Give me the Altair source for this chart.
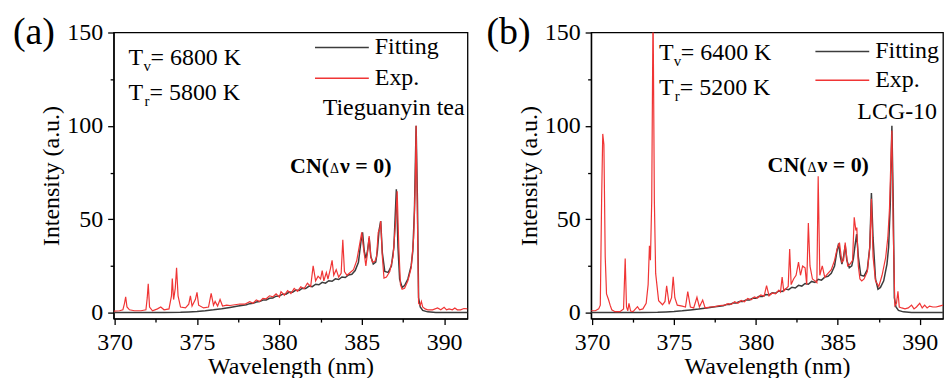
import altair as alt
import pandas as pd

FONT = "Liberation Serif"
AXIS_FONT = "Times New Roman, Liberation Serif, serif"
RED = "#f03535"
GRAY = "#3c3c3c"

# ---------------- Panel (a): Tieguanyin tea ----------------
a_fit_wl = [369.94, 371.0, 372.0, 373.0, 374.0, 374.5, 375.0, 375.5, 376.0, 376.5,
            377.0, 377.5, 378.0, 378.2, 378.4, 378.6, 378.8, 379.0, 379.2, 379.4,
            379.6, 379.8, 380.0, 380.2, 380.4, 380.6, 380.8, 381.0, 381.2, 381.4,
            381.6, 381.8, 382.0, 382.2, 382.4, 382.6, 382.8, 383.0, 383.2, 383.4,
            383.6, 383.8, 384.0, 384.2, 384.4, 384.6, 384.8, 384.95, 385.05, 385.15,
            385.25, 385.35, 385.45, 385.55, 385.7, 385.85, 385.95, 386.05, 386.15, 386.25,
            386.4, 386.6, 386.8, 386.95, 387.1, 387.2, 387.3, 387.45, 387.6, 387.8,
            388.0, 388.1, 388.2, 388.3, 388.38, 388.45, 388.55, 388.7, 389.0, 389.5,
            391.42]
a_fit_int = [0.0, 0.0, 0.0, 0.05, 0.15, 0.35, 0.6, 1.0, 1.5, 2.1,
             2.8, 3.5, 4.2, 4.8, 5.0, 5.7, 5.9, 6.7, 6.8, 7.7,
             7.8, 8.8, 8.9, 9.9, 9.9, 11.0, 10.9, 12.1, 11.9, 13.1,
             12.9, 14.2, 13.9, 15.2, 14.9, 16.2, 15.8, 17.1, 16.8, 18.1,
             17.7, 19.1, 18.8, 20.2, 20.5, 22.5, 27.0, 38.0, 43.0, 33.0,
             29.0, 33.0, 40.0, 30.0, 26.0, 27.0, 33.0, 44.0, 49.0, 32.0,
             22.0, 21.5, 25.0, 35.0, 66.0, 35.0, 18.0, 13.5, 14.5, 18.0,
             25.0, 33.0, 55.0, 100.0, 60.0, 8.0, 3.0, 1.2, 0.4, 0.1,
             0.0]
a_exp_wl = [369.94, 370.3, 370.5, 370.6, 370.67, 370.75, 370.9, 371.2, 371.6, 371.9,
            371.98, 372.04, 372.12, 372.3, 372.6, 372.8, 373.0, 373.3, 373.45, 373.5,
            373.58, 373.68, 373.76, 373.85, 374.0, 374.3, 374.5, 374.6, 374.7, 374.9,
            375.0, 375.1, 375.4, 375.7, 375.86, 376.0, 376.1, 376.25, 376.4, 376.55,
            376.8, 377.0, 377.3, 377.6, 377.9, 378.2, 378.4, 378.6, 378.8, 379.0,
            379.2, 379.4, 379.6, 379.8, 380.0, 380.1, 380.3, 380.5, 380.7, 380.9,
            381.1, 381.3, 381.5, 381.7, 381.9, 382.05, 382.2, 382.35, 382.5, 382.6,
            382.7, 382.85, 382.95, 383.1, 383.2, 383.3, 383.45, 383.6, 383.75, 383.85,
            383.95, 384.1, 384.3, 384.5, 384.7, 384.9, 385.0, 385.1, 385.25, 385.35,
            385.45, 385.55, 385.65, 385.8, 385.9, 386.0, 386.1, 386.15, 386.25, 386.35,
            386.5, 386.7, 386.9, 387.05, 387.15, 387.25, 387.35, 387.45, 387.6, 387.8,
            388.0, 388.15, 388.25, 388.3, 388.38, 388.45, 388.55, 388.62, 388.7, 388.85,
            389.0, 389.3, 389.6, 389.8, 390.0, 390.15, 390.3, 390.5, 390.65, 390.8,
            391.0, 391.2, 391.42]
a_exp_int = [0.8, 1.0, 1.5, 5.0, 8.5, 3.0, 1.5, 1.0, 1.0, 1.5,
             8.0, 15.5, 3.0, 1.0, 2.0, 3.0, 1.5, 2.0, 9.0, 18.3,
             7.0, 13.0, 24.0, 9.0, 3.0, 2.5, 4.5, 9.0, 3.5, 7.0,
             10.8, 4.0, 2.5, 3.0, 10.3, 4.0, 6.0, 3.5, 7.0, 3.5,
             4.0, 3.8, 4.2, 4.6, 4.5, 5.8, 5.0, 6.8, 5.9, 7.6,
             7.4, 9.0, 8.4, 10.0, 8.3, 11.2, 9.3, 11.8, 10.2, 13.0,
             11.4, 13.8, 12.8, 15.8, 14.0, 25.0, 17.0, 19.5, 18.0, 22.5,
             17.0, 21.5, 18.0, 23.5, 28.0, 20.0, 23.0, 19.0, 21.0, 39.0,
             22.0, 20.0, 21.5, 23.0, 28.0, 38.0, 43.0, 35.0, 25.0, 32.0,
             41.0, 30.0, 27.0, 27.5, 30.0, 43.0, 45.0, 49.0, 30.0, 18.5,
             19.0, 22.0, 30.0, 48.0, 65.0, 35.0, 15.0, 12.5, 13.0, 17.0,
             24.0, 40.0, 70.0, 100.0, 50.0, 5.0, 4.0, 6.0, 3.0, 2.0,
             1.5, 1.5, 2.5, 1.5, 2.8, 1.5, 2.0, 1.5, 2.5, 1.5,
             1.5, 2.2, 2.0]

# ---------------- Panel (b): LCG-10 ----------------
b_fit_wl = [369.94, 371.0, 372.0, 373.0, 374.0, 374.5, 375.0, 375.5, 376.0, 376.5,
            377.0, 377.5, 378.0, 378.2, 378.4, 378.6, 378.8, 379.0, 379.2, 379.4,
            379.6, 379.8, 380.0, 380.2, 380.4, 380.6, 380.8, 381.0, 381.2, 381.4,
            381.6, 381.8, 382.0, 382.2, 382.4, 382.6, 382.8, 383.0, 383.2, 383.4,
            383.6, 383.8, 384.0, 384.2, 384.4, 384.6, 384.8, 384.95, 385.05, 385.15,
            385.25, 385.35, 385.45, 385.55, 385.7, 385.85, 385.95, 386.05, 386.15, 386.25,
            386.4, 386.6, 386.8, 386.95, 387.05, 387.15, 387.3, 387.45, 387.6, 387.8,
            388.0, 388.1, 388.2, 388.3, 388.38, 388.45, 388.55, 388.7, 389.0, 389.5,
            391.42]
b_fit_int = [0.0, 0.0, 0.0, 0.05, 0.15, 0.35, 0.6, 0.95, 1.4, 1.9,
             2.5, 3.1, 3.7, 4.3, 4.4, 5.1, 5.2, 5.9, 6.0, 6.8,
             6.8, 7.7, 7.7, 8.7, 8.6, 9.7, 9.5, 10.6, 10.4, 11.6,
             11.3, 12.6, 12.3, 13.6, 13.2, 14.6, 14.2, 15.6, 15.2, 16.7,
             16.2, 17.8, 17.4, 19.0, 19.5, 21.0, 25.0, 33.0, 37.0, 30.0,
             26.0, 30.0, 36.0, 28.0, 24.0, 25.0, 29.0, 36.0, 42.0, 30.0,
             20.0, 19.5, 23.0, 35.0, 64.0, 40.0, 18.0, 12.5, 13.5, 17.0,
             26.0, 35.0, 58.0, 100.0, 60.0, 8.0, 3.0, 1.2, 0.4, 0.1,
             0.0]
b_exp_wl = [369.94, 370.2, 370.4, 370.5, 370.58, 370.65, 370.72, 370.8, 370.88, 371.0,
            371.1, 371.2, 371.4, 371.7, 371.92, 372.02, 372.1, 372.18, 372.25, 372.35,
            372.5, 372.77, 372.9, 373.1, 373.3, 373.42, 373.5, 373.56, 373.64, 373.72,
            373.8, 373.88, 374.06, 374.3, 374.45, 374.55, 374.7, 374.85, 374.95, 375.05,
            375.2, 375.5, 375.7, 375.84, 376.0, 376.2, 376.4, 376.55, 376.75, 376.9,
            377.2, 377.5, 377.8, 378.1, 378.3, 378.5, 378.7, 378.9, 379.1, 379.3,
            379.5, 379.7, 379.9, 380.1, 380.3, 380.5, 380.65, 380.8, 381.0, 381.2,
            381.4, 381.5, 381.6, 381.7, 381.85, 381.97, 382.06, 382.15, 382.3, 382.45,
            382.6, 382.72, 382.85, 383.0, 383.1, 383.2, 383.3, 383.45, 383.6, 383.72,
            383.8, 383.9, 384.05, 384.2, 384.4, 384.6, 384.8, 384.95, 385.1, 385.25,
            385.35, 385.45, 385.6, 385.75, 385.9, 386.0, 386.1, 386.16, 386.25, 386.35,
            386.46, 386.6, 386.8, 386.95, 387.05, 387.15, 387.3, 387.5, 387.7, 387.92,
            388.05, 388.15, 388.25, 388.3, 388.38, 388.48, 388.58, 388.67, 388.75, 388.9,
            389.1, 389.3, 389.5, 389.65, 389.8, 390.0, 390.15, 390.3, 390.45, 390.6,
            390.8, 391.0, 391.2, 391.42]
b_exp_int = [1.0, 1.0, 2.0, 4.0, 60.0, 95.7, 90.0, 30.0, 10.0, 7.0,
             4.0, 1.5, 0.5, 0.5, 2.0, 29.0, 3.0, 1.0, 5.0, 0.8,
             0.5, 3.2, 1.5, 2.0, 5.0, 15.0, 35.8, 28.0, 60.0, 165.0,
             60.0, 21.0, 6.4, 4.2, 6.0, 14.4, 4.5, 8.0, 19.2, 8.0,
             4.0, 3.5, 3.0, 11.2, 3.0, 2.5, 8.2, 3.0, 6.7, 2.5,
             3.0, 3.2, 3.8, 4.0, 4.8, 4.4, 5.8, 5.0, 6.5, 5.8,
             7.6, 6.8, 8.4, 7.8, 9.5, 8.8, 14.4, 9.0, 10.5, 10.0,
             12.0, 11.0, 19.0, 11.5, 13.0, 14.0, 34.0, 15.0, 18.0, 20.0,
             27.0, 20.0, 25.0, 24.0, 15.0, 48.0, 25.0, 18.0, 17.0, 16.0,
             73.0, 20.0, 25.0, 19.0, 21.0, 23.0, 28.0, 34.0, 37.5, 27.0,
             28.0, 37.5, 25.0, 26.0, 28.0, 51.0, 44.0, 45.5, 25.0, 18.0,
             17.0, 18.0, 22.0, 35.0, 61.0, 30.0, 17.0, 14.0, 20.0, 29.5,
             40.0, 55.0, 85.0, 97.5, 45.0, 3.7, 5.0, 11.4, 3.0, 2.5,
             2.0, 2.5, 4.0, 2.0, 3.0, 5.0, 2.5, 4.0, 2.5, 3.5,
             3.0, 3.0, 3.5, 4.0]

series_names = ["Fitting", "Exp."]
x_ticks = [370, 372.5, 375, 377.5, 380, 382.5, 385, 387.5, 390]
y_ticks = [0, 25, 50, 75, 100, 125, 150]
X_DOMAIN = [369.94, 391.42]
Y_DOMAIN = [-3.2, 150]

panel_labels = ["(a)", "(b)"]
sample_names = ["Tieguanyin tea", "LCG-10"]
tv_text = ["= 6800 K", "= 6400 K"]
tr_text = ["= 5800 K", "= 5200 K"]

AXIS_STYLE = dict(
    labelFont=AXIS_FONT, labelFontSize=24, labelColor="black",
    titleFont=AXIS_FONT, titleFontSize=24, titleFontWeight="normal", titleColor="black",
    domainColor="black", domainWidth=1.3, tickColor="black", tickWidth=1.3,
    grid=False, labelFlush=False, labelOverlap=False,
)


def txt(text, x, y, size=24, weight="normal", align="left"):
    return alt.Chart(pd.DataFrame({"label": [text]})).mark_text(
        font=FONT, fontSize=size, fontWeight=weight, align=align,
        baseline="alphabetic", color="black"
    ).encode(text="label:N", x=alt.value(x), y=alt.value(y))


def panel(fit_wl, fit_int, exp_wl, exp_int, width, legend_x, legend_y, row_pad, annots):
    df_fit = pd.DataFrame({"wl": fit_wl, "inten": fit_int, "series": series_names[0]})
    df_exp = pd.DataFrame({"wl": exp_wl, "inten": exp_int, "series": series_names[1]})
    color = alt.Color(
        "series:N",
        scale=alt.Scale(domain=series_names, range=[GRAY, RED]),
        legend=alt.Legend(
            orient="none", legendX=legend_x, legendY=legend_y, title=None,
            symbolType="stroke", symbolSize=2916, symbolStrokeWidth=1.5,
            clipHeight=24, rowPadding=row_pad, padding=0, labelOffset=5,
            labelFont=FONT, labelFontSize=24, labelColor="black",
        ),
    )
    xenc = alt.X(
        "wl:Q",
        scale=alt.Scale(domain=X_DOMAIN, nice=False, zero=False),
        axis=alt.Axis(
            values=x_ticks, title="Wavelength (nm)",
            labelExpr="datum.value % 5 == 0 ? datum.label : ''",
            tickSize={"condition": {"test": "datum.value % 5 == 0", "value": 6}, "value": 3.5},
            labelPadding=6, titlePadding=0, **AXIS_STYLE,
        ),
    )
    yenc = alt.Y(
        "inten:Q",
        scale=alt.Scale(domain=Y_DOMAIN, nice=False, zero=False),
        axis=alt.Axis(
            values=y_ticks, title="Intensity (a.u.)",
            labelExpr="datum.value % 50 == 0 ? datum.label : ''",
            tickSize={"condition": {"test": "datum.value % 50 == 0", "value": 6}, "value": 3.5},
            labelPadding=5, titlePadding=3, **AXIS_STYLE,
        ),
    )
    fit = alt.Chart(df_fit).mark_line(strokeWidth=1.5, clip=True).encode(x=xenc, y=yenc, color=color)
    exp = alt.Chart(df_exp).mark_line(strokeWidth=1.2, clip=True).encode(x=xenc, y=yenc, color=color)
    return alt.layer(fit, exp, *annots).properties(width=width, height=287)


def cn_label(x, y):
    return [
        txt("CN(", x, y, size=22, weight="bold"),
        txt("Δ", x + 40, y, size=14),
        txt("ν = 0)", x + 50, y, size=22, weight="bold"),
    ]


annots_a = [
    txt(panel_labels[0], -101, 12, size=38),
    txt("T", 15, 33), txt("v", 30, 39, size=15), txt(tv_text[0], 37, 33),
    txt("T", 15, 68), txt("r", 31, 74, size=15), txt(tr_text[0], 36, 68),
    txt(sample_names[0], 352, 83, align="right"),
] + cn_label(177, 141)
annots_b = [
    txt(panel_labels[1], -105, 12, size=38),
    txt("T", 68, 28), txt("v", 83, 34, size=15), txt(tv_text[1], 90, 28),
    txt("T", 68, 63), txt("r", 84, 69, size=15), txt(tr_text[1], 89, 63),
    txt(sample_names[1], 347, 87, align="right"),
] + cn_label(177, 140)

pa = panel(a_fit_wl, a_fit_int, a_exp_wl, a_exp_int, 355, 201, 3, 7, annots_a)
pb = panel(b_fit_wl, b_fit_int, b_exp_wl, b_exp_int, 353, 224, 7, 5, annots_b)

chart = alt.hconcat(
    pa, pb, spacing=17, padding={"left": 12, "top": 13, "right": 0, "bottom": 0}
).resolve_scale(
    color="independent"
).resolve_legend(
    color="independent"
).configure(
    background="white", font=AXIS_FONT,
    style={"guide-label": {"font": AXIS_FONT}, "guide-title": {"font": AXIS_FONT}},
).configure_view(
    stroke="black", strokeWidth=1.3
).configure_axis(
    labelFont=AXIS_FONT, titleFont=AXIS_FONT
)

chart.save("out.html", embed_options={"renderer": "svg", "actions": False})
